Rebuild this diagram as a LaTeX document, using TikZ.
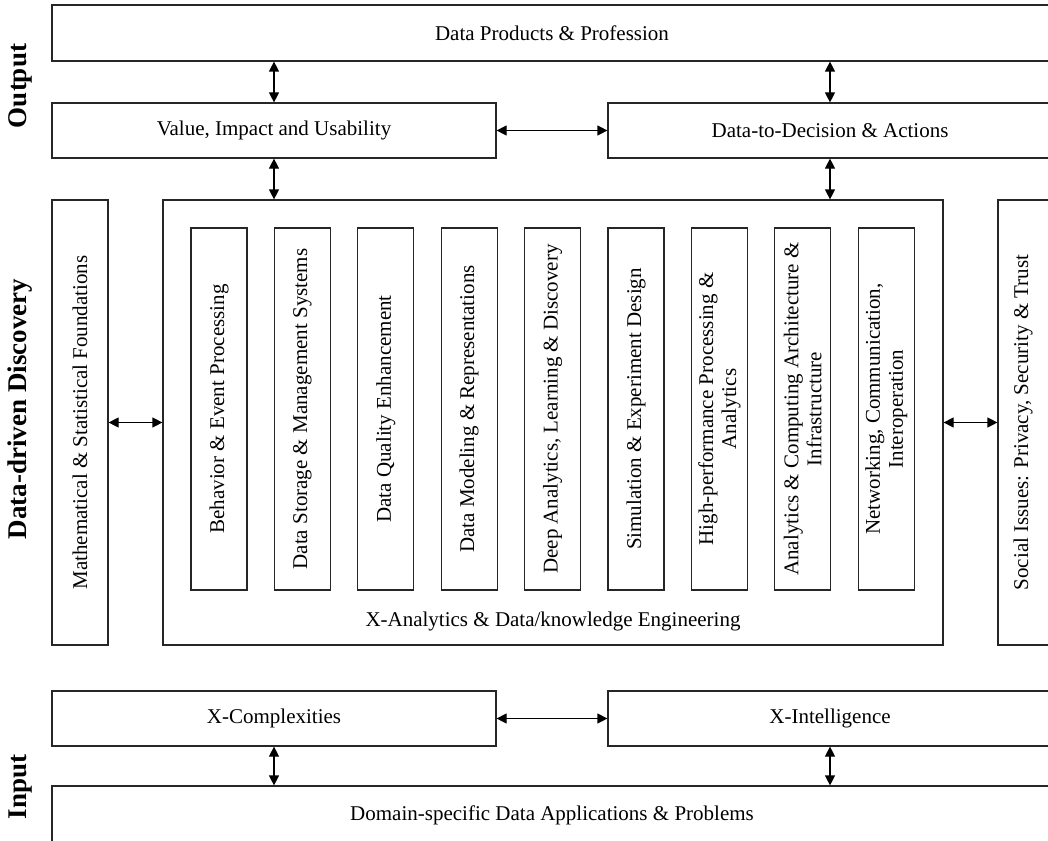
\documentclass[tikz,border=0pt]{standalone}
\usepackage{fontspec}
\setmainfont{Liberation Serif}
\usetikzlibrary{arrows.meta}

\tikzset{
  box/.style={draw=black!85, line width=1.2pt, inner sep=0pt, align=center,
    font=\fontsize{21}{23}\selectfont},
  vtext/.style={rotate=90, align=center, font=\fontsize{21}{23}\selectfont},
  side/.style={rotate=90, font=\fontsize{27}{30}\selectfont\bfseries},
  link/.style={{Triangle[length=10pt,width=10pt]}-{Triangle[length=10pt,width=10pt]},
    line width=1.2pt},
}

\begin{document}
\begin{tikzpicture}[x=1pt,y=-1pt]
            \clip (0,0) rectangle (1048,840);
            \useasboundingbox (0,0) rectangle (1048,840);

            % output layer
            \node[box, minimum width=1000pt, minimum height=56pt] (prod) at (552,33) {Data Products \& Profession};
            \node[box, minimum width=444pt, minimum height=55pt] (value) at (274,130.5) {Value, Impact and Usability};
            \node[box, minimum width=444pt, minimum height=55pt] (decision) at (830,130.5) {Data-to-Decision \& Actions};

            % discovery layer
            \node[box, minimum width=56pt, minimum height=445pt] (math) at (80,422.5) {};
            \node[vtext] at (math) {Mathematical \& Statistical Foundations};
            \node[box, minimum width=780pt, minimum height=445pt] (xana) at (553,422.5) {};
            \node at (553,621) [font=\fontsize{21}{23}\selectfont] {X-Analytics \& Data/knowledge Engineering};
            \node[box, minimum width=56pt, minimum height=445pt] (social) at (1026,422.5) {};
            \node[vtext] at (1023,422.5) {Social Issues: Privacy, Security \& Trust};

            \foreach \t [count=\i] in {Behavior \& Event Processing,
                Data Storage \& Management Systems,
                Data Quality Enhancement,
                Data Modeling \& Representations,
                Deep Analytics{,} Learning \& Discovery,
                Simulation \& Experiment Design,
                High-performance Processing \&\\ Analytics,
                Analytics \& Computing Architecture \&\\ Infrastructure,
                Networking{,} Communication{,}\\ Interoperation}
            {
                \node[box, minimum width=56pt, minimum height=362pt] (b\i) at ({219+83.4*(\i-1)},409) {};
                \node[vtext] at (b\i) {\t};
            }

            % input layer
            \node[box, minimum width=444pt, minimum height=55pt] (cplx) at (274,718.5) {X-Complexities};
            \node[box, minimum width=444pt, minimum height=55pt] (intel) at (830,718.5) {X-Intelligence};
            \node[box, minimum width=1000pt, minimum height=58pt] (domain) at (552,815) {Domain-specific Data Applications \& Problems};

            % connectors
            \draw[link] (value.north) -- (value.north |- prod.south);
            \draw[link] (decision.north) -- (decision.north |- prod.south);
            \draw[link] (value.east) -- (decision.west);
            \draw[link] (value.south) -- (value.south |- xana.north);
            \draw[link] (decision.south) -- (decision.south |- xana.north);
            \draw[link] (math.east) -- (xana.west);
            \draw[link] (xana.east) -- (social.west);
            \draw[link] (cplx.east) -- (intel.west);
            \draw[link] (cplx.south) -- (cplx.south |- domain.north);
            \draw[link] (intel.south) -- (intel.south |- domain.north);

            % layer titles
            \node[side] (out) at (20,86) {Output};
            \node[side] (disc) at (20,409) {Data-driven Discovery};
            \node[side] (in) at (21,787) {Input};
\end{tikzpicture}
\end{document}
